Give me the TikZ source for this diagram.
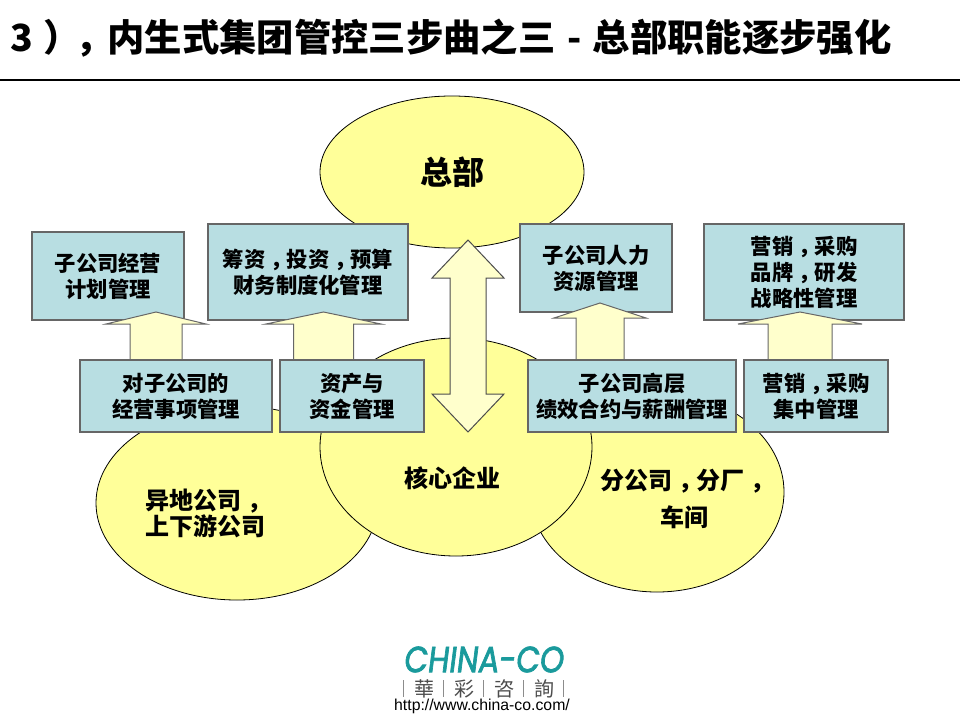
\documentclass[tikz,border=0pt]{standalone}
\usepackage{fontspec}
\setmainfont{Noto Sans CJK SC}
\newfontfamily\tcfont{Noto Sans CJK TC}
\newfontfamily\urlfont{Liberation Sans}
\newfontfamily\logofont[FakeSlant=0.15,FakeBold=2.2]{Poppins}
\usepackage{tikz}
\usetikzlibrary{shapes.geometric}
\definecolor{boxblue}{HTML}{B8DEE2}
\definecolor{ballyellow}{HTML}{FFFF99}
\definecolor{arrowyellow}{HTML}{FFFFCC}
\definecolor{logoteal}{HTML}{1A9A9C}
\newcommand{\dou}{\kern0.25em，\kern-0.25em}
\begin{document}
\begin{tikzpicture}[x=1pt,y=-1pt,
  ball/.style={ellipse,draw=black,fill=ballyellow,line width=0.8pt,inner sep=0pt},
  infobox/.style={rectangle,draw=black!60,fill=boxblue,line width=1.3pt,align=center,inner sep=0pt,
             font=\fontsize{21.33}{26}\selectfont\bfseries},
  blockarrow/.style={draw=black!60,fill=arrowyellow,line width=1pt,line join=miter},
  balltext/.style={align=center,font=\fontsize{24}{24}\selectfont\bfseries}]
  \useasboundingbox (0,0) rectangle (960,720);
  \node[anchor=west,font=\fontsize{37.33}{40}\selectfont\bfseries,inner sep=0pt] (title) at (10,38) {3\hspace{11pt}）\hspace{-6pt}，\hspace{-5pt}内生式集团管控三步曲之三\makebox[37.33pt]{-}总部职能逐步强化};
  \coordinate (ruleL) at (0,80);
  \coordinate (ruleR) at (960,80);
  \draw[line width=2pt] (ruleL) -- (ruleR);
  % ellipses
  \node[ball,minimum width=264pt,minimum height=152pt] (hq) at (452,172) {};
  \node[ball,minimum width=254pt,minimum height=200pt] (right) at (657,492) {};
  \node[ball,minimum width=282pt,minimum height=194pt] (left) at (237,503) {};
  \node[ball,minimum width=272pt,minimum height=218pt] (core) at (456,447) {};
  \node[font=\fontsize{32}{32}\selectfont\bfseries] (hqtext) at (452,172) {总部};
  \node[balltext] (coretext) at (452,478) {核心企业};
  \node[balltext,align=left] (lefttext) at (205.5,513.5) {异地公司\dou\\上下游公司};
  \node[balltext,font=\fontsize{24}{37}\selectfont\bfseries] (righttext) at (684,498.5) {分公司\dou 分厂\dou\\车间};
  % upper boxes
  \node[infobox,minimum width=152pt,minimum height=88pt] (plan) at (108,276) {子公司经营\\计划管理};
  \node[infobox,minimum width=200pt,minimum height=96pt] (finance) at (308,272) {筹资\dou 投资\dou 预算\\财务制度化管理};
  \node[infobox,minimum width=152pt,minimum height=88pt] (hr) at (596,268) {子公司人力\\资源管理};
  \node[infobox,minimum width=200pt,minimum height=96pt] (market) at (804,272) {营销\dou 采购\\品牌\dou 研发\\战略性管理};
  % block arrows
  \foreach \tipx/\tipy/\basey/\headw/\shaftw in {156/312/324/50/26, 323.5/312/324/57.5/30, 600/303/318/46/24, 800/312/324/62/32}
    \draw[blockarrow] (\tipx,\tipy) -- (\tipx+\headw,\basey) -- (\tipx+\shaftw,\basey) -- (\tipx+\shaftw,360)
      -- (\tipx-\shaftw,360) -- (\tipx-\shaftw,\basey) -- (\tipx-\headw,\basey) -- cycle;
  \draw[blockarrow,draw=black!70] (468,240) -- (504,278) -- (486,278) -- (486,394) -- (504,394) -- (468,432)
      -- (432,394) -- (450,394) -- (450,278) -- (432,278) -- cycle;
  % lower boxes
  \node[infobox,minimum width=192pt,minimum height=72pt] (affairs) at (176,396) {对子公司的\\经营事项管理};
  \node[infobox,minimum width=144pt,minimum height=72pt] (assets) at (352,396) {资产与\\资金管理};
  \node[infobox,minimum width=208pt,minimum height=72pt] (exec) at (632,396) {子公司高层\\绩效合约与薪酬管理};
  \node[infobox,minimum width=144pt,minimum height=72pt] (sales) at (816,396) {营销\dou 采购\\集中管理};
  % logo
  \node[text=logoteal,font=\logofont\fontsize{29}{29}\selectfont,inner sep=0pt] (logo) at (483,659.5) {\scalebox{1.06}[1.25]{CHINA-CO}};
  \node[font=\tcfont\fontsize{20}{20}\selectfont,text=black!70,inner sep=0pt] (logocn) at (484,689) {華\hspace{20pt}彩\hspace{20pt}咨\hspace{20pt}詢};
  \foreach \barx in {403,443,483,523,563}
    \draw[black!45,line width=0.8pt] (\barx,680) -- (\barx,697);
  \node[font=\urlfont\fontsize{15.8}{16}\selectfont,inner sep=0pt] (url) at (482,706) {http://www.china-co.com/};
\end{tikzpicture}
\end{document}
